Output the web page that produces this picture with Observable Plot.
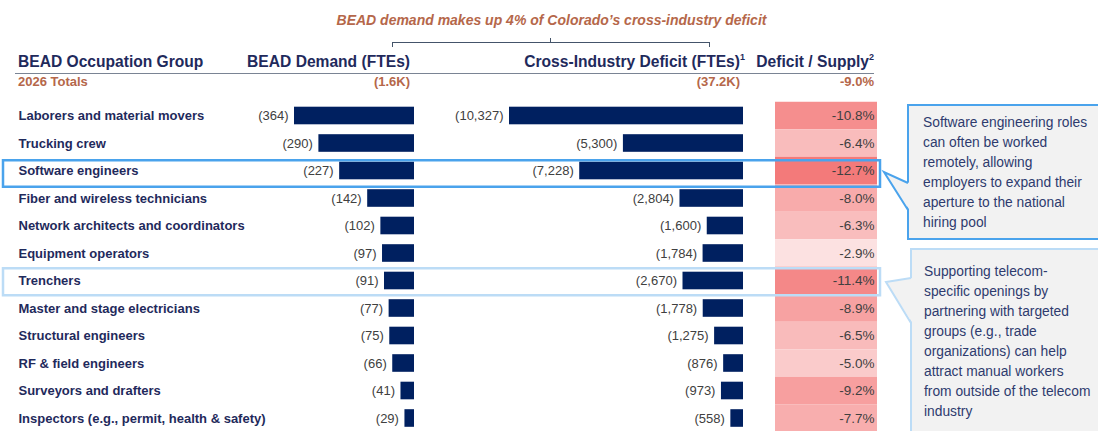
<!DOCTYPE html>
<html><head><meta charset="utf-8">
<script src="https://cdn.jsdelivr.net/npm/d3@7"></script>
<script src="https://cdn.jsdelivr.net/npm/@observablehq/plot@0.6"></script>
<style>
html,body{margin:0;padding:0;background:#fff;}
#chart{position:relative;width:1098px;height:431px;overflow:hidden;font-family:"Liberation Sans",Arial,sans-serif;}
.abs{position:absolute;white-space:nowrap;}
.hdr{font-weight:bold;font-size:15.6px;line-height:20px;color:#1f2a5c;top:52px;}
.tot{font-weight:bold;font-size:13px;line-height:16px;color:#b5674a;top:74px;}
.hdr sup{font-size:9px;line-height:0;vertical-align:7px;}
.callout{position:absolute;background:#f2f2f2;box-sizing:border-box;color:#2e3b6e;font-size:13.8px;line-height:20px;white-space:nowrap;}
</style></head>
<body><div id="chart"></div>
<script>
// ---- data ----
const categories = ["Laborers and material movers","Trucking crew","Software engineers","Fiber and wireless technicians","Network architects and coordinators","Equipment operators","Trenchers","Master and stage electricians","Structural engineers","RF & field engineers","Surveyors and drafters","Inspectors (e.g., permit, health & safety)"];
const beadDemand = [364,290,227,142,102,97,91,77,75,66,41,29];
const crossIndustryDeficit = [10327,5300,7228,2804,1600,1784,2670,1778,1275,876,973,558];
const deficitSupply = [-10.8,-6.4,-12.7,-8.0,-6.3,-2.9,-11.4,-8.9,-6.5,-5.0,-9.2,-7.7];
const headers = ["BEAD Occupation Group","BEAD Demand (FTEs)","Cross-Industry Deficit (FTEs)","Deficit / Supply"];
const totals = ["2026 Totals","(1.6K)","(37.2K)","-9.0%"];
const title = "BEAD demand makes up 4% of Colorado’s cross-industry deficit";
const highlightStrong = ["Software engineers"];
const highlightLight = ["Trenchers"];
const callout1 = ["Software engineering roles","can often be worked","remotely, allowing","employers to expand their","aperture to the national","hiring pool"];
const callout2 = ["Supporting telecom-","specific openings by","partnering with targeted","groups (e.g., trade","organizations) can help","attract manual workers","from outside of the telecom","industry"];

const rows = categories.map((c,i)=>({cat:c, bead:beadDemand[i], deficit:crossIndustryDeficit[i], ratio:deficitSupply[i]}));
const fmt = d3.format(",");
const font = '"Liberation Sans", Arial, sans-serif';
const baseStyle = {position:"absolute", left:"0px", top:"0px", background:"transparent", fontFamily:font, overflow:"visible"};
const yRange = [101.75, 431.75];
const navy = "#002060", labelNavy = "#1f2a5c", gray = "#404040";

const chart = document.getElementById("chart");

// header HTML
chart.insertAdjacentHTML("beforeend", `
  <div class="abs" style="left:0;width:1103px;text-align:center;top:12px;line-height:16px;font-size:14px;font-weight:bold;font-style:italic;color:#b5674a;">${title}</div>
  <div class="abs" style="left:392px;top:42px;width:316px;height:4px;border:1.5px solid #44546a;border-bottom:none;"></div>
  <div class="abs" style="left:550px;top:38px;width:0;height:4px;border-left:1.5px solid #44546a;"></div>
  <div class="abs hdr" style="left:18px;">${headers[0]}</div>
  <div class="abs hdr" style="right:688px;">${headers[1]}</div>
  <div class="abs hdr" style="right:353px;">${headers[2]}<sup>1</sup></div>
  <div class="abs hdr" style="right:224px;">${headers[3]}<sup>2</sup></div>
  <div class="abs" style="left:15px;top:73px;width:859px;height:0;border-top:1.5px solid #7a8494;"></div>
  <div class="abs tot" style="left:18px;">${totals[0]}</div>
  <div class="abs tot" style="right:688px;">${totals[1]}</div>
  <div class="abs tot" style="right:358px;">${totals[2]}</div>
  <div class="abs tot" style="right:224px;">${totals[3]}</div>
`);

const yBars = {domain:categories, range:yRange, paddingInner:0.36, paddingOuter:0.18, round:false, axis:null};

// Plot 1: row labels + BEAD demand bars
const p1 = Plot.plot({
  width:1098, height:431, margin:0, style:baseStyle,
  x:{domain:[0, d3.max(beadDemand)], range:[414, 294], axis:null},
  y:yBars,
  marks:[
    Plot.barX(rows, {x1:0, x2:"bead", y:"cat", fill:navy}),
    Plot.text(rows, {x:"bead", y:"cat", text:d=>`(${fmt(d.bead)})`, textAnchor:"end", dx:-6, fill:gray, fontSize:13}),
    Plot.text(rows, {y:"cat", text:"cat", frameAnchor:"left", textAnchor:"start", dx:18, fill:labelNavy, fontSize:13, fontWeight:"bold"})
  ]
});

// Plot 2: cross-industry deficit bars
const p2 = Plot.plot({
  width:1098, height:431, margin:0, style:baseStyle,
  x:{domain:[0, d3.max(crossIndustryDeficit)], range:[743, 509], axis:null},
  y:yBars,
  marks:[
    Plot.barX(rows, {x1:0, x2:"deficit", y:"cat", fill:navy}),
    Plot.text(rows, {x:"deficit", y:"cat", text:d=>`(${fmt(d.deficit)})`, textAnchor:"end", dx:-6, fill:gray, fontSize:13})
  ]
});

// Plot 3: deficit / supply heat column + highlight boxes
const p3 = Plot.plot({
  width:1098, height:431, margin:0, style:baseStyle,
  y:{domain:categories, range:yRange, padding:0, round:false, axis:null},
  color:{type:"linear", domain:[-13, 0], range:["#f37777", "#ffffff"]},
  marks:[
    Plot.cell(rows, {y:"cat", fill:"ratio", insetLeft:775, insetRight:221}),
    Plot.text(rows, {y:"cat", text:d=>d.ratio.toFixed(1)+"%", frameAnchor:"right", textAnchor:"end", dx:-224, fill:gray, fontSize:13.5}),
    Plot.cell(highlightLight, {y:d=>d, fill:"none", stroke:"#bcdcf6", strokeWidth:2.5, insetLeft:3, insetRight:218, insetTop:1.5, insetBottom:-1}),
    Plot.cell(highlightStrong, {y:d=>d, fill:"none", stroke:"#4aa3ec", strokeWidth:2.5, insetLeft:3, insetRight:218, insetTop:3.5, insetBottom:-2.5})
  ]
});

chart.append(p1, p2, p3);

// callouts
chart.insertAdjacentHTML("beforeend", `
  <div class="callout" style="left:907px;top:104px;width:220px;height:136px;border:2px solid #4aa3ec;padding:7px 0 0 14px;">${callout1.join("<br>")}</div>
  <div class="callout" style="left:910px;top:248px;width:220px;height:190px;border:2px solid #bcdcf6;padding:12px 0 0 12px;">${callout2.join("<br>")}</div>
  <svg class="abs" style="left:0;top:0;overflow:visible" width="1098" height="431">
    <polygon points="909.5,183 884,172 909.5,210" fill="#f2f2f2"/>
    <polyline points="908,183 884,172 908,210" fill="none" stroke="#4aa3ec" stroke-width="2"/>
    <polygon points="912.5,278 886,282 912.5,323" fill="#f2f2f2"/>
    <polyline points="911,278 886,282 911,323" fill="none" stroke="#bcdcf6" stroke-width="2"/>
  </svg>
`);
</script></body></html>
